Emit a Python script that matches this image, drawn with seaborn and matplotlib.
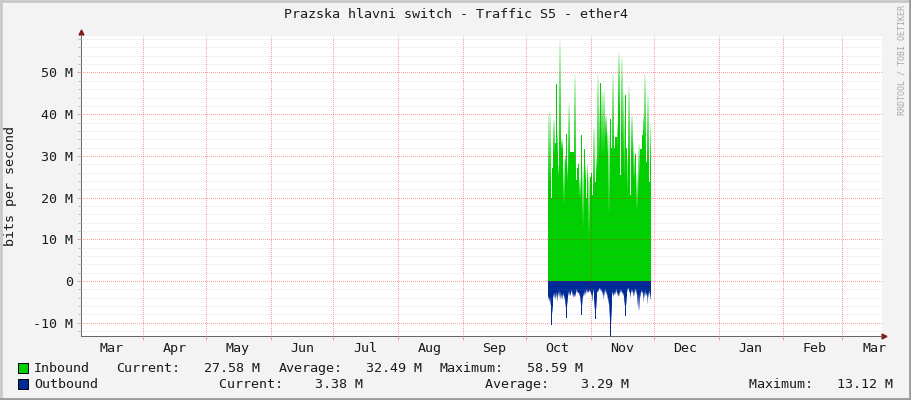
import numpy as np
import pandas as pd
import matplotlib.pyplot as plt
from matplotlib.patches import Rectangle
from matplotlib.lines import Line2D
import seaborn as sns

# Traffic samples in Mbit/s, one per pixel column of the graph
# "solid" is the flat coloured part, "peak" is where the fade above it ends
in_solid = [23, 23, 23, 20, 27, 30, 30, 33, 47.2, 30, 25, 31, 31, 31.4, 31.4, 18.2, 18.2, 28, 35.3, 24,
            26, 30, 31, 31, 30.9, 30.9, 28, 26, 24.2, 27, 28, 20, 20, 35, 12.2, 12.2, 31.7, 24, 20, 24,
            10.3, 10.3, 25, 26, 20.5, 22, 22, 23.7, 26, 26, 26, 30, 47.5, 30, 30, 30, 30, 34.5, 34.5, 30,
            15, 15, 38.8, 32, 30, 30, 32, 34.5, 34.5, 32, 40, 40, 25.4, 34, 30, 28, 24, 44.6, 32, 20.6,
            28, 28, 20.6, 30, 30, 24, 24, 30.5, 16.5, 16.5, 20, 25, 31.7, 31.7, 35, 35, 32, 30, 28.5, 28,
            28, 23.7, 28]
in_peak = [41, 41, 41, 20, 27, 39, 39, 33, 47.2, 36, 28, 58.5, 58.5, 33.8, 33.8, 27, 30, 30, 35.3, 28,
           43, 43, 31, 31, 30.9, 30.9, 50, 50, 24.2, 27, 28, 25, 25, 35, 28, 28, 31.7, 28, 20, 28,
           26, 26, 25, 26, 20.5, 37, 37, 23.7, 30, 50, 50, 42, 47.5, 46, 46, 46, 46, 40, 40, 36,
           36, 36, 38.8, 32, 50, 50, 32, 34.5, 34.5, 38, 55, 55, 25.4, 54, 54, 46, 40, 44.6, 32, 30,
           47, 47, 20.6, 40, 40, 34, 30, 30.5, 26, 26, 33, 33, 31.7, 31.7, 35, 40, 50, 50, 28.5, 45,
           45, 23.7, 38]
out_solid = [-3.5, -4, -4, -10.6, -6, -3, -2.8, -3, -2.5, -3, -2.5, -2.2, -2.5, -3, -3.2, -2.8, -3.5, -4.5, -8.9, -4,
             -2.5, -2.3, -2.8, -2.2, -2.5, -3, -3.2, -2.8, -2, -2.5, -2.8, -3, -3.5, -8.2, -3.5, -3, -2.2, -2.5, -2, -2.2,
             -2.4, -2, -2.2, -2.8, -3, -2, -4.5, -9.1, -4, -2.3, -2, -1.6, -1.8, -2, -2.4, -2.5, -2.2, -2, -2.4, -3,
             -4, -5, -13.1, -6, -2.5, -3, -2.6, -2.4, -2, -2.6, -3, -2.4, -2, -2.2, -2.6, -3, -4, -8.4, -3.5, -1.8,
             -1.6, -2.4, -3, -2, -2.2, -2.6, -2, -1.8, -2.2, -3, -3, -3, -2.6, -2.2, -2.4, -2.8, -2.4, -2.2, -2.8, -3,
             -2.6, -2.4, -3]
out_peak = [-4.5, -5, -6, -10.6, -8, -4, -4, -4.5, -4, -5, -3.5, -4, -4.5, -4, -4.5, -3.5, -4.5, -6.5, -8.9, -6,
            -3.5, -3.5, -3.5, -3, -3.5, -4, -3.8, -3.8, -3, -3, -3, -3.5, -5.5, -8.2, -6, -3.8, -3.5, -3.4, -3, -2.8,
            -3, -2.6, -2.8, -3.5, -5, -3, -7, -9.1, -7, -3, -2.6, -2.2, -2.4, -2.6, -3.4, -4.5, -3.5, -3, -3.4, -4.4,
            -5.5, -9, -13.1, -10, -3.4, -3.8, -3.4, -3.4, -3, -3.6, -3.8, -3.5, -2.8, -3, -3.2, -3.6, -6, -8.4, -6, -2.6,
            -2.2, -3, -4.2, -2.8, -3, -3.8, -3.5, -2.6, -3.4, -6, -7.2, -7.2, -4, -2.8, -3.2, -5, -4, -3.5, -3.6, -5.5,
            -4.2, -3.4, -4.6]

# Time axis is days since 1 March, samples start in late September
first_day = 224.74
step = 0.4778
days = first_day + step * np.arange(len(in_solid))
month_starts = [31, 61, 92, 122, 153, 184, 214, 245, 275, 306, 337, 365]
month_labels = ['Mar', 'Apr', 'May', 'Jun', 'Jul', 'Aug', 'Sep', 'Oct', 'Nov', 'Dec', 'Jan', 'Feb', 'Mar']
month_label_days = [16, 46, 76, 107, 137, 168, 199, 229, 260, 290, 321, 352, 380.7]
y_ticks = [-10, 0, 10, 20, 30, 40, 50]
y_tick_labels = ['-10 M', '0', '10 M', '20 M', '30 M', '40 M', '50 M']

green = '#00CF00'
blue = '#002A97'
canvas = '#F3F3F3'
text_color = '#1A1A1A'
one_px = 0.72

sns.set_style('white')
plt.rcParams['font.family'] = ['DejaVu Sans Mono']

W, H = 911, 400
fig = plt.figure(figsize=(W / 100, H / 100), dpi=100, facecolor=canvas)
ax = fig.add_axes([81 / W, 1 - 336 / H, 801 / W, 300 / H], facecolor='white')

df_in = pd.DataFrame({'day': days, 'mbit': in_solid})
df_out = pd.DataFrame({'day': days, 'mbit': out_solid})
sns.barplot(data=df_in, x='day', y='mbit', native_scale=True, orient='x', color=green, saturation=1,
            width=1, errorbar=None, linewidth=0, antialiased=False, zorder=2, ax=ax)
sns.barplot(data=df_out, x='day', y='mbit', native_scale=True, orient='x', color=blue, saturation=1,
            width=1, errorbar=None, linewidth=0, antialiased=False, zorder=2, ax=ax)


# Fade from the solid part out to the peak
def draw_fade(day, low, high, color):
    if low == high:
        return
    rgba = np.ones((48, 1, 4))
    rgba[:, :, :3] = plt.matplotlib.colors.to_rgb(color)
    rgba[:, 0, 3] = np.linspace(0, 1, 48) ** 0.7
    if high < low:
        rgba = rgba[::-1]
        low, high = high, low
    ax.imshow(rgba, extent=(day - step / 2, day + step / 2, low, high), aspect='auto',
              interpolation='nearest', zorder=2)


for i, day in enumerate(days):
    draw_fade(day, in_solid[i], in_peak[i], green)
    draw_fade(day, out_solid[i], out_peak[i], blue)

ax.set_xlim(1.38, 384.1)
ax.set_ylim(-13.2, 58.75)
ax.set_xlabel('')
ax.set_ylabel('')

# Grid sits on top of the data like rrdtool does it
# The half pixel dash offset keeps the dots crisp on snapped lines
ax.set_axisbelow(False)
ax.set_yticks(y_ticks)
ax.set_yticklabels(y_tick_labels, fontsize=9.6, color=text_color)
ax.set_yticks([v for v in range(-12, 59, 2) if v % 10 != 0], minor=True)
ax.set_xticks(month_starts)
ax.set_xticklabels([])
ax.grid(which='major', axis='both', color='#FF0000', alpha=0.38, lw=one_px, ls=(0.5, (1, 1)))
ax.grid(which='minor', axis='y', color='#808080', alpha=0.2, lw=one_px, ls=(0.5, (1, 1)))
ax.tick_params(which='major', length=3, width=one_px, color='#E8A0A0', pad=3)
ax.tick_params(which='minor', axis='y', left=True, length=2, width=one_px, color='#BBBBBB')
ax.tick_params(axis='y', left=True)
ax.tick_params(axis='x', bottom=True)

for label, day in zip(month_labels, month_label_days):
    ax.text(day, -14.6, label, ha='center', va='top', fontsize=9.6, color=text_color, clip_on=False)

for side in ['top', 'right']:
    ax.spines[side].set_visible(False)
for side in ['left', 'bottom']:
    ax.spines[side].set_color('#666666')
    ax.spines[side].set_linewidth(one_px)

# Axis arrows
ax.plot([0], [1.013], marker='^', ms=3.5, color='#7F1D1D', transform=ax.transAxes, clip_on=False)
ax.plot([1.003], [0], marker='>', ms=3.5, color='#7F1D1D', transform=ax.transAxes, clip_on=False)


def px_text(x, y, s, va='center', **kw):
    fig.text(x / W, 1 - y / H, s, va=va, **kw)


px_text(455.5, 18, 'Prazska hlavni switch - Traffic S5 - ether4', va='baseline', ha='center', fontsize=9.6, color=text_color)
px_text(11, 186, 'bits per second', ha='center', rotation=90, fontsize=9.6, color=text_color)
px_text(902, 60, 'RRDTOOL / TOBI OETIKER', ha='center', rotation=90, fontsize=6, color='#AAAAAA')

# Legend rows
for x, s in [(34, 'Inbound'), (116, 'Current:'), (204, '27.58 M'), (279, 'Average:'),
             (366, '32.49 M'), (440, 'Maximum:'), (527, '58.59 M')]:
    px_text(x, 372, s, va='baseline', ha='left', fontsize=9.6, color=text_color)
for x, s in [(34, 'Outbound'), (219, 'Current:    3.38 M'), (485, 'Average:    3.29 M'),
             (749, 'Maximum:   13.12 M')]:
    px_text(x, 388, s, va='baseline', ha='left', fontsize=9.6, color=text_color)
for y_top, color in [(363, green), (379, blue)]:
    fig.add_artist(Rectangle((17.5 / W, 1 - (y_top + 10) / H), 10 / W, 10 / H, transform=fig.transFigure,
                             facecolor=color, edgecolor='black', lw=one_px))

# Canvas border, light on top and left, darker on bottom and right
for xs, ys, color in [([0, 1], [1 - 1 / H, 1 - 1 / H], '#C9C9C9'), ([1 / W, 1 / W], [0, 1], '#C9C9C9'),
                      ([0, 1], [1 / H, 1 / H], '#9A9A9A'), ([1 - 1 / W, 1 - 1 / W], [0, 1], '#9A9A9A')]:
    fig.add_artist(Line2D(xs, ys, transform=fig.transFigure, color=color, lw=2))

fig.savefig('out.png', dpi=100, facecolor=canvas)
